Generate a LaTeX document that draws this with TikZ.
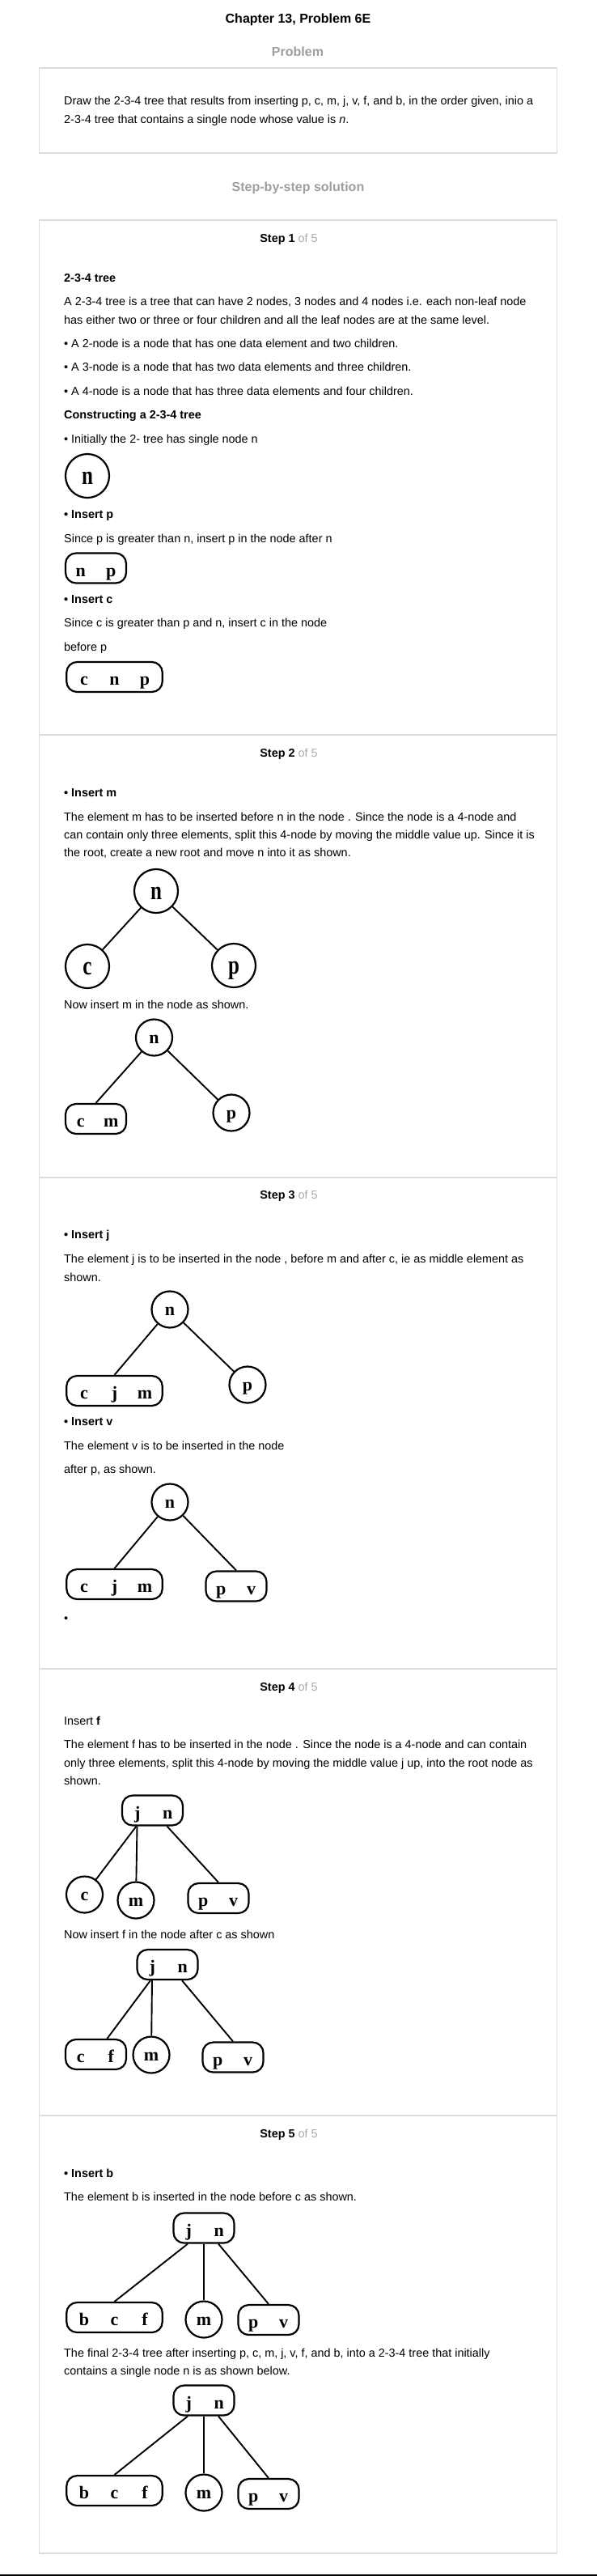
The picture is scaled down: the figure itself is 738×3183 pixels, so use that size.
\documentclass[tikz,border=0pt]{standalone}
\usepackage{fontspec}
\setmainfont{Liberation Sans}
\newfontfamily\keyserif{Liberation Serif}
\usepackage{graphicx}
\usepackage{xcolor}
\usepackage{tikz}
\definecolor{rahmen}{HTML}{DDDDDD}
\definecolor{titelgrau}{HTML}{9E9E9E}
\definecolor{ofgrau}{HTML}{AAAAAA}
\newcommand{\kb}[1]{\makebox[37.5pt]{#1}} % Schluessel im Knoten
\newcommand{\kc}[1]{\scalebox{1}[1.3]{#1}} % grosse Knoten
\tikzset{
  txt/.style={anchor=base west, inner sep=0pt, font=\fontsize{14.4}{17}\selectfont},
  btxt/.style={txt, font=\bfseries\fontsize{14.4}{17}\selectfont},
  head/.style={anchor=base, inner sep=0pt, font=\bfseries\fontsize{16}{19}\selectfont},
  stephead/.style={anchor=base, inner sep=0pt, font=\fontsize{14.4}{17}\selectfont},
  panel/.style={draw=rahmen, line width=1.2pt},
  key/.style={circle, draw, line width=2.2pt, inner sep=0pt, minimum size=45pt,
    text height=15pt, text depth=0pt, font=\keyserif\bfseries\fontsize{22}{22}\selectfont},
  bigkey/.style={key, minimum size=54pt, text height=20pt,
    font=\keyserif\bfseries\fontsize{25}{25}\selectfont},
  keys/.style={draw, rounded corners=13pt, line width=2.2pt, inner xsep=0pt, inner ysep=0pt,
    text height=28.5pt, text depth=8.5pt, font=\keyserif\bfseries\fontsize{22}{22}\selectfont},
  link/.style={line width=1.9pt}
}

\begin{document}
\begin{tikzpicture}[x=1pt, y=-1pt]
\useasboundingbox (0,0) rectangle (738,3183);

%Kopf
\node[head] (title) at (368.5,28) {Chapter 13, Problem 6E};
\node[head, text=titelgrau] (probhead) at (368,69) {Problem};
\draw[panel] (48.5,84) rectangle (688.5,189);
\node[txt] (prob1) at (79,129) {Draw the 2-3-4 tree that results from inserting p, c, m, j, v, f, and b, in the order given, inio a};
\node[txt] (prob2) at (79,152) {2-3-4 tree that contains a single node whose value is \textit{n}.};
\node[head, text=titelgrau] (solhead) at (368.5,236) {Step-by-step solution};

%Rahmen der Schritte
\foreach \oben/\unten in {272/908, 908/1455, 1455/2062, 2062/2614, 2614/3155}
  \draw[panel] (48.5,\oben) rectangle (688.5,\unten);
\foreach \s/\y in {1/299, 2/935, 3/1481, 4/2089, 5/2641}
  \node[stephead] (step\s) at (357,\y) {\textbf{Step \s} \textcolor{ofgrau}{of 5}};

%Schritt 1
\node[btxt] (s1a) at (79,348) {2-3-4 tree};
\node[txt] (s1b) at (79,377) {A 2-3-4 tree is a tree that can have 2 nodes, 3 nodes and 4 nodes i.e. each non-leaf node};
\node[txt] (s1c) at (79,400) {has either two or three or four children and all the leaf nodes are at the same level.};
\node[txt] (s1d) at (79,429) {• A 2-node is a node that has one data element and two children.};
\node[txt] (s1e) at (79,458) {• A 3-node is a node that has two data elements and three children.};
\node[txt] (s1f) at (79,488) {• A 4-node is a node that has three data elements and four children.};
\node[btxt] (s1g) at (79,517) {Constructing a 2-3-4 tree};
\node[txt] (s1h) at (79,547) {• Initially the 2- tree has single node n};
\node[bigkey] (n0) at (108,588) {\kc{n}};
\node[btxt] (s1i) at (79,640) {• Insert p};
\node[txt] (s1j) at (79,670) {Since p is greater than n, insert p in the node after n};
\node[keys] (np1) at (118.5,702) {\kb{n}\kb{p}};
\node[btxt] (s1k) at (79,745) {• Insert c};
\node[txt] (s1l) at (79,774) {Since c is greater than p and n, insert c in the node};
\node[txt] (s1m) at (79,804) {before p};
\node[keys, inner xsep=3pt] (cnp1) at (141.5,836.5) {\kb{c}\kb{n}\kb{p}};

%Schritt 2
\node[btxt] (s2a) at (79,984) {• Insert m};
\node[txt] (s2b) at (79,1014.5) {The element m has to be inserted before n in the node . Since the node is a 4-node and};
\node[txt] (s2c) at (79,1036) {can contain only three elements, split this 4-node by moving the middle value up. Since it is};
\node[txt] (s2d) at (79,1058) {the root, create a new root and move n into it as shown.};
\node[bigkey] (n2) at (193,1101) {\kc{n}};
\node[bigkey] (c2) at (108,1194) {\kc{c}};
\node[bigkey] (p2) at (289,1193) {\kc{p}};
\draw[link] (n2) -- (c2);
\draw[link] (n2) -- (p2);
\node[txt] (s2e) at (79,1246) {Now insert m in the node as shown.};
\node[key] (n2b) at (190.5,1282) {n};
\node[keys] (cm2b) at (118.5,1382.5) {\kb{c}\kb{m}};
\node[key] (p2b) at (286,1375) {p};
\draw[link] (n2b) -- (cm2b.north);
\draw[link] (n2b) -- (p2b);

%Schritt 3
\node[btxt] (s3a) at (79,1530) {• Insert j};
\node[txt] (s3b) at (79,1560) {The element j is to be inserted in the node , before m and after c, ie as middle element as};
\node[txt] (s3c) at (79,1583) {shown.};
\node[key] (n3) at (210,1618) {n};
\node[keys, inner xsep=3pt] (cjm3) at (141.5,1718.5) {\kb{c}\kb{j}\kb{m}};
\node[key] (p3) at (306,1711) {p};
\draw[link] (n3) -- (cjm3.north);
\draw[link] (n3) -- (p3);
\node[btxt] (s3d) at (79,1761) {• Insert v};
\node[txt] (s3e) at (79,1791) {The element v is to be inserted in the node};
\node[txt] (s3f) at (79,1820) {after p, as shown.};
\node[key] (n3b) at (210,1856) {n};
\node[keys, inner xsep=3pt] (cjm3b) at (141.5,1957.5) {\kb{c}\kb{j}\kb{m}};
\node[keys] (pv3b) at (292,1960) {\kb{p}\kb{v}};
\draw[link] (n3b) -- (cjm3b.north);
\draw[link] (n3b) -- (pv3b.north);
\node[txt] (s3g) at (79,2004) {•};

%Schritt 4
\node[txt] (s4a) at (79,2131) {Insert \textbf{f}};
\node[txt] (s4b) at (79,2160) {The element f has to be inserted in the node . Since the node is a 4-node and can contain};
\node[txt] (s4c) at (79,2183) {only three elements, split this 4-node by moving the middle value j up, into the root node as};
\node[txt] (s4d) at (79,2205) {shown.};
\node[keys] (jn4) at (188.5,2237) {\kb{j}\kb{n}};
\node[key] (c4) at (104.5,2341) {c};
\node[key] (m4) at (168,2348) {m};
\node[keys] (pv4) at (270,2345.5) {\kb{p}\kb{v}};
\draw[link] ([xshift=-20pt]jn4.south) -- (c4);
\draw[link] ([xshift=-19pt]jn4.south) -- (m4);
\draw[link] ([xshift=18pt]jn4.south) -- (pv4.north);
\node[txt] (s4e) at (79,2395) {Now insert f in the node after c as shown};
\node[keys] (jn4b) at (207,2427.5) {\kb{j}\kb{n}};
\node[keys] (cf4b) at (118.5,2538.5) {\kb{c}\kb{f}};
\node[key] (m4b) at (187,2539) {m};
\node[keys] (pv4b) at (288,2542) {\kb{p}\kb{v}};
\draw[link] ([xshift=-21pt]jn4b.south) -- ([xshift=14pt]cf4b.north);
\draw[link] ([xshift=-19pt]jn4b.south) -- (m4b);
\draw[link] ([xshift=18pt]jn4b.south) -- (pv4b.north);

%Schritt 5
\node[btxt] (s5a) at (79,2690.5) {• Insert b};
\node[txt] (s5b) at (79,2719) {The element b is inserted in the node before c as shown.};
\node[keys] (jn5) at (252,2753) {\kb{j}\kb{n}};
\node[keys, inner xsep=3pt] (bcf5) at (141.5,2863.5) {\kb{b}\kb{c}\kb{f}};
\node[key] (m5) at (252,2866) {m};
\node[keys] (pv5) at (332,2866.5) {\kb{p}\kb{v}};
\draw[link] ([xshift=-20pt]jn5.south) -- (bcf5.north);
\draw[link] (jn5.south) -- (m5);
\draw[link] ([xshift=18pt]jn5.south) -- (pv5.north);
\node[txt] (s5c) at (79,2912) {The final 2-3-4 tree after inserting p, c, m, j, v, f, and b, into a 2-3-4 tree that initially};
\node[txt] (s5d) at (79,2934) {contains a single node n is as shown below.};
\node[keys] (jn5b) at (252,2966) {\kb{j}\kb{n}};
\node[keys, inner xsep=3pt] (bcf5b) at (141.5,3077.5) {\kb{b}\kb{c}\kb{f}};
\node[key] (m5b) at (252,3080) {m};
\node[keys] (pv5b) at (332,3081.5) {\kb{p}\kb{v}};
\draw[link] ([xshift=-20pt]jn5b.south) -- (bcf5b.north);
\draw[link] (jn5b.south) -- (m5b);
\draw[link] ([xshift=18pt]jn5b.south) -- (pv5b.north);

%Abschlusslinie
\draw[line width=2pt] (0,3182) -- (738,3182);
\end{tikzpicture}
\end{document}
